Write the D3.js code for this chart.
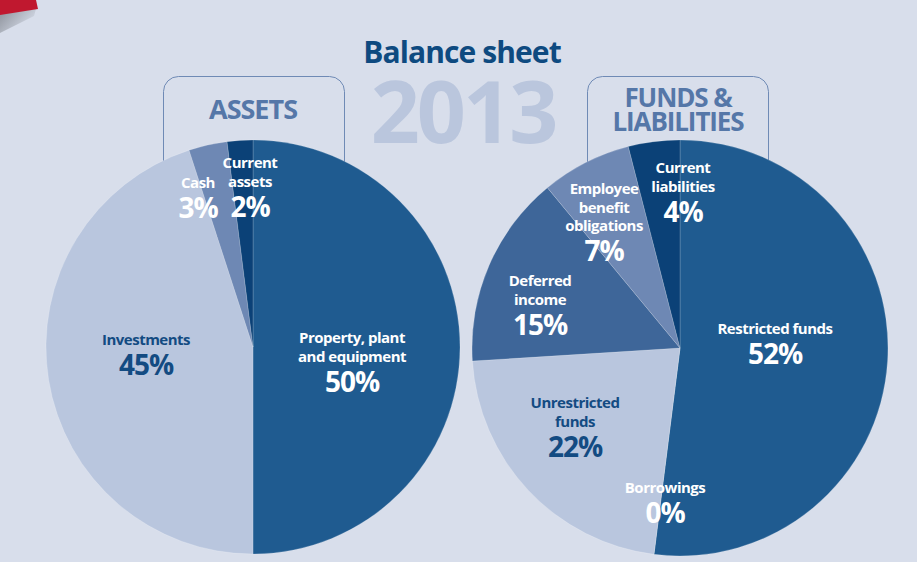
<!DOCTYPE html>
<html>
<head>
<meta charset="utf-8">
<script src="https://cdn.jsdelivr.net/npm/d3@7/dist/d3.min.js"></script>
<style>
  html, body { margin: 0; padding: 0; background: #d8deeb; }
  svg { display: block; }
  text { font-family: "Open Sans", "DejaVu Sans", sans-serif; font-weight: 700; }
</style>
</head>
<body>
<svg id="chart" width="917" height="562"></svg>
<script>
// Assets side
const assetCategories = ["Property, plant|and equipment", "Investments", "Cash", "Current|assets"];
const assetValues = [50, 45, 3, 2];
// Funds & liabilities side
const liabilityCategories = ["Restricted funds", "Borrowings", "Unrestricted|funds", "Deferred|income", "Employee|benefit|obligations", "Current|liabilities"];
const liabilityValues = [52, 0, 22, 15, 7, 4];

const titleText = "Balance sheet";
const yearText = "2013";
const headingAssets = ["ASSETS"];
const headingLiabilities = ["FUNDS &", "LIABILITIES"];

// Slice colours (shared palette across both pies)
const assetColors = ["#1f5b90", "#b9c6de", "#6e88b4", "#0b4177"];
const liabilityColors = ["#1f5b90", "#1f5b90", "#b9c6de", "#3e6699", "#6e88b4", "#0b4177"];
const assetTextColors = ["#ffffff", "#134b82", "#ffffff", "#ffffff"];
const liabilityTextColors = ["#ffffff", "#ffffff", "#134b82", "#ffffff", "#ffffff", "#ffffff"];

// Label anchors relative to each pie centre (first-line baseline)
const assetLabelAnchors = [[99, -4], [-107, -2], [-55, -159], [-3, -179]];
const liabilityLabelAnchors = [[95, -14], [-15, 145], [-105, 60], [-140, -62], [-76, -154], [3, -175]];

const svg = d3.select("#chart");

// Folded corner in the top-left
const defs = svg.append("defs");
const grad = defs.append("linearGradient").attr("id", "curlShade")
  .attr("x1", "0").attr("y1", "0").attr("x2", "1").attr("y2", "0.6");
grad.append("stop").attr("offset", "0").attr("stop-color", "#8b9099");
grad.append("stop").attr("offset", "1").attr("stop-color", "#d8deeb");
svg.append("path").attr("d", "M0,14 L36,9 L34,16 L0,33 Z").attr("fill", "url(#curlShade)");
svg.append("path").attr("d", "M0,0 L36,0 L38,9 L0,15 Z").attr("fill", "#c0182f");

// Section boxes (drawn first so the pies cover their lower ends)
function sectionBox(x, w) {
  svg.append("rect")
    .attr("x", x).attr("y", 76.5).attr("width", w).attr("height", 160)
    .attr("rx", 15).attr("ry", 15)
    .attr("fill", "none").attr("stroke", "#6f8ab5").attr("stroke-width", 1);
}
sectionBox(163.5, 181);
sectionBox(587.5, 181);

// Title and year
svg.append("text").text(yearText)
  .attr("x", 463).attr("y", 143).attr("text-anchor", "middle")
  .attr("font-size", 86).attr("fill", "#bac6dd").attr("letter-spacing", -3);
svg.append("text").text(titleText)
  .attr("x", 462).attr("y", 63).attr("text-anchor", "middle")
  .attr("font-size", 30).attr("fill", "#0e4a80").attr("letter-spacing", -0.9);

// Section headings
function heading(lines, x, y0, size, spacing) {
  svg.append("text")
    .attr("text-anchor", "middle").attr("font-size", size).attr("fill", "#5577a8").attr("letter-spacing", spacing)
    .selectAll("tspan").data(lines).join("tspan")
    .attr("x", x).attr("y", (d, i) => y0 + i * 24).text(d => d);
}
heading(headingAssets, 253, 119, 27, -1);
heading(headingLiabilities, 678, 107, 26, -1.1);

const pie = d3.pie().sort(null).value(d => d);

function drawPie(cx, cy, r, categories, values, colors, textColors, anchors) {
  const g = svg.append("g").attr("transform", `translate(${cx},${cy})`);
  const arc = d3.arc().innerRadius(0).outerRadius(r);
  const arcs = pie(values);
  g.selectAll("path").data(arcs).join("path")
    .attr("d", arc)
    .attr("fill", (d, i) => colors[i])
    .attr("stroke", "rgba(255,255,255,0.22)")
    .attr("stroke-width", 0.8);

  const labels = g.selectAll("g.label").data(arcs).join("g")
    .attr("class", "label")
    .attr("transform", (d, i) => `translate(${anchors[i][0]},${anchors[i][1]})`);
  labels.each(function (d, i) {
    const lines = categories[i].split("|");
    const t = d3.select(this).append("text")
      .attr("text-anchor", "middle").attr("fill", textColors[i])
      .attr("font-size", 15).attr("letter-spacing", -0.5);
    t.selectAll("tspan").data(lines).join("tspan")
      .attr("x", 0).attr("y", (l, j) => j * 18.5).text(l => l);
    d3.select(this).append("text")
      .attr("text-anchor", "middle").attr("fill", textColors[i])
      .attr("font-size", 28).attr("letter-spacing", -1)
      .attr("x", 0).attr("y", (lines.length - 1) * 18.5 + 30)
      .text(d.data + "%");
  });
}

drawPie(253, 347, 207, assetCategories, assetValues, assetColors, assetTextColors, assetLabelAnchors);
drawPie(680, 348, 208, liabilityCategories, liabilityValues, liabilityColors, liabilityTextColors, liabilityLabelAnchors);
</script>
</body>
</html>
